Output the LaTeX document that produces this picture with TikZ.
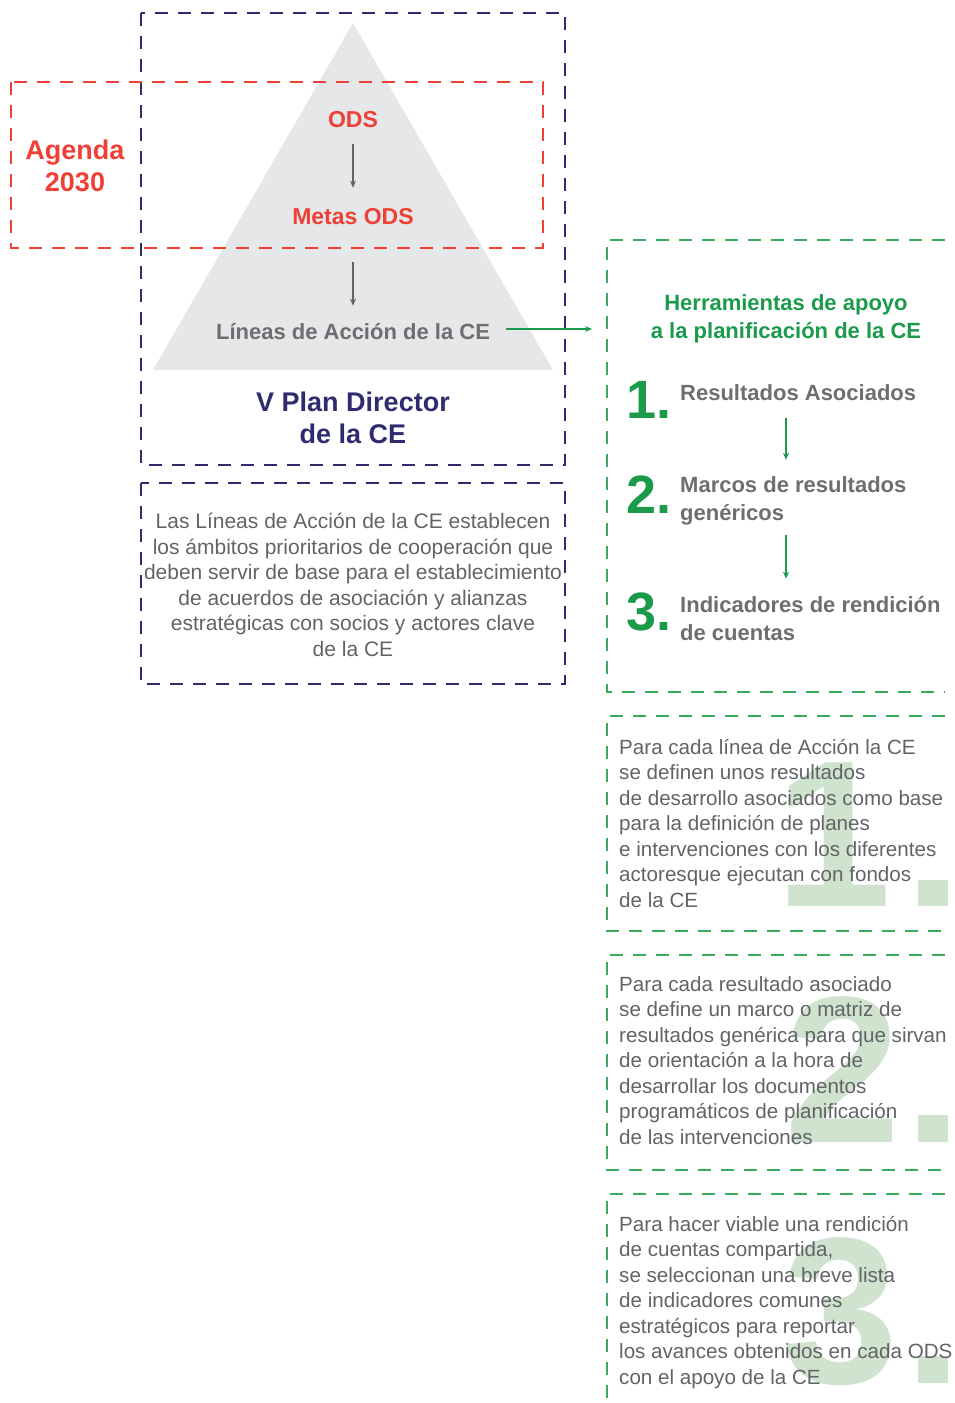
\documentclass[tikz,border=0pt]{standalone}
\usepackage{fontspec}
\setmainfont{Liberation Sans}
\usetikzlibrary{arrows.meta}
\definecolor{navyc}{HTML}{2E2C6E}
\definecolor{redc}{HTML}{EF4036}
\definecolor{greenc}{HTML}{1B9A4B}
\definecolor{dashg}{HTML}{3AAA5C}
\definecolor{greyt}{HTML}{6D6E71}
\definecolor{bodyt}{HTML}{626366}
\definecolor{faint}{HTML}{CFE3CF}
\definecolor{tri}{HTML}{E6E7E8}
\newcommand\fsz[2]{\fontsize{#1}{#2}\selectfont}
\begin{document}
\begin{tikzpicture}[x=1pt,y=-1pt,
  boxline/.style={line width=1.3pt, dash pattern=on 13pt off 10pt},
  txt/.style={inner sep=0pt, anchor=base},
  bodytxt/.style={txt, text=bodyt, font=\fsz{21}{25.5}},
  sidetxt/.style={inner sep=0pt, anchor=base west, align=left, text=bodyt, font=\fsz{20.6}{25.5}},
  bignum/.style={inner sep=0pt, anchor=base west, text=faint, font=\bfseries\fsz{209}{209}},
  numtxt/.style={inner sep=0pt, anchor=base west, text=greenc, font=\bfseries\fsz{54}{54}},
  itemtxt/.style={inner sep=0pt, anchor=base west, text=greyt, font=\bfseries\fsz{22}{28}, align=left},
  garrow/.style={draw=greenc, line width=1.2pt, -{Stealth[length=7pt,width=6pt]}},
  darrow/.style={draw=bodyt, line width=1.2pt, -{Stealth[length=7pt,width=6pt]}}
]
\useasboundingbox (0,0) rectangle (955,1403);

% pyramid
\fill[tri] (353,23) -- (553,370) -- (153,370) -- cycle;

% boxes
\draw[boxline, navyc] (141,13) rectangle (565,465);
\draw[boxline, redc] (11,82) rectangle (543,248);
\draw[boxline, navyc] (141,483) rectangle (565,684);
\draw[boxline, dashg] (945,240) -- (607,240) -- (607,692) -- (945,692);
\draw[boxline, dashg] (945,716) -- (607,716) -- (607,931) -- (945,931);
\draw[boxline, dashg] (945,955) -- (607,955) -- (607,1170) -- (945,1170);
\draw[boxline, dashg] (945,1194) -- (607,1194) -- (607,1403);

% faint big numbers
\node[bignum] (b1) at (775,906) {1};
\fill[faint] (918,880) rectangle (948,906);
\node[bignum] (b2) at (784,1142) {2};
\fill[faint] (918,1115) rectangle (948,1142);
\node[bignum] (b3) at (782,1383) {3};
\fill[faint] (918,1356) rectangle (948,1383);

% left texts (base anchor = baseline of last line)
\node[txt, text=redc, font=\bfseries\fsz{27}{32}, align=center] (agenda) at (75,191) {Agenda\\2030};
\node[txt, text=redc, font=\bfseries\fsz{23}{28}] (ods) at (353,127) {ODS};
\node[txt, text=redc, font=\bfseries\fsz{23}{28}] (metas) at (353,224) {Metas ODS};
\node[txt, text=greyt, font=\bfseries\fsz{22}{28}] (lin) at (353,339) {Líneas de Acción de la CE};
\node[txt, text=navyc, font=\bfseries\fsz{27}{32}, align=center] (plan) at (353,443) {V Plan Director\\de la CE};
\node[bodytxt, align=center] (desc) at (353,656) {Las Líneas de Acción de la CE establecen\\los ámbitos prioritarios de cooperación que\\deben servir de base para el establecimiento\\de acuerdos de asociación y alianzas\\estratégicas con socios y actores clave\\de la CE};

\draw[darrow, shorten <=17pt, shorten >=20pt] (ods.south) -- (metas.north);
\draw[darrow, shorten <=38pt, shorten >=17pt] (metas.south) -- (lin.north);
\coordinate (gin) at (592,329);
\draw[garrow, shorten <=16pt] (lin.east |- gin) -- (gin);

% right column
\node[txt, text=greenc, font=\bfseries\fsz{22}{28}, align=center] (head) at (786,338) {Herramientas de apoyo\\a la planificación de la CE};
\node[numtxt] (n1) at (626,418) {1.};
\node[itemtxt] (r1) at (680,400) {Resultados Asociados};
\node[numtxt] (n2) at (626,513) {2.};
\node[itemtxt] (r2) at (680,520) {Marcos de resultados\\genéricos};
\node[numtxt] (n3) at (626,630) {3.};
\node[itemtxt] (r3) at (680,640) {Indicadores de rendición\\de cuentas};
\draw[garrow, shorten <=18pt, shorten >=16pt] (r1.south -| head.south) -- (r2.north -| head.south);
\draw[garrow, shorten <=10pt, shorten >=17pt] (r2.south -| head.south) -- (r3.north -| head.south);

\node[sidetxt] (t1) at (619,907) {Para cada línea de Acción la CE\\se definen unos resultados\\de desarrollo asociados como base\\para la definición de planes\\e intervenciones con los diferentes\\actoresque ejecutan con fondos\\de la CE};
\node[sidetxt] (t2) at (619,1144) {Para cada resultado asociado\\se define un marco o matriz de\\resultados genérica para que sirvan\\de orientación a la hora de\\desarrollar los documentos\\programáticos de planificación\\de las intervenciones};
\node[sidetxt] (t3) at (619,1384) {Para hacer viable una rendición\\de cuentas compartida,\\se seleccionan una breve lista\\de indicadores comunes\\estratégicos para reportar\\los avances obtenidos en cada ODS\\con el apoyo de la CE};
\end{tikzpicture}
\end{document}
